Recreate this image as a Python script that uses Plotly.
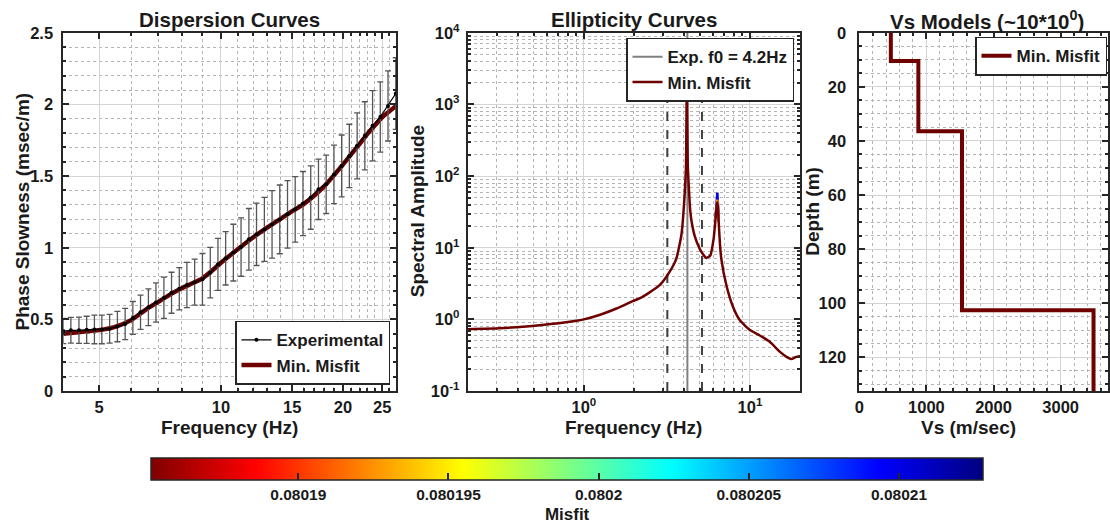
import plotly.graph_objects as go

W, H = 1110, 524
FONT = "Liberation Sans, Arial, sans-serif"
AXC = "#262626"
TXT = "#1a1a1a"

# ---------------- Dispersion (left) ----------------
disp_freq = [4.08, 4.26, 4.46, 4.66, 4.87, 5.08, 5.31, 5.55, 5.80, 6.06, 6.33, 6.62, 6.91, 7.23, 7.55,
             7.89, 8.24, 8.61, 9.00, 9.41, 9.83, 10.27, 10.73, 11.21, 11.72, 12.24, 12.80, 13.37, 13.97,
             14.60, 15.25, 15.94, 16.66, 17.41, 18.19, 19.01, 19.86, 20.75, 21.69, 22.66, 23.68, 24.74,
             25.85, 27.02]
disp_slow = [0.419, 0.424, 0.424, 0.427, 0.430, 0.430, 0.435, 0.450, 0.468, 0.510, 0.550, 0.585, 0.618,
             0.651, 0.686, 0.714, 0.740, 0.760, 0.780, 0.826, 0.884, 0.926, 0.966, 1.005, 1.059, 1.094,
             1.128, 1.163, 1.198, 1.233, 1.268, 1.308, 1.350, 1.408, 1.443, 1.512, 1.571, 1.641, 1.711,
             1.781, 1.851, 1.913, 1.990, 2.076]
disp_err = [0.088, 0.090, 0.092, 0.095, 0.100, 0.100, 0.100, 0.106, 0.109, 0.115, 0.120, 0.128, 0.137,
            0.144, 0.143, 0.148, 0.158, 0.160, 0.180, 0.176, 0.182, 0.186, 0.198, 0.204, 0.215, 0.218,
            0.223, 0.235, 0.240, 0.236, 0.229, 0.224, 0.221, 0.211, 0.204, 0.204, 0.216, 0.221, 0.230,
            0.238, 0.245, 0.245, 0.245, 0.250]
model_freq = [4.08, 4.5, 5.0, 5.5, 6.0, 6.5, 7.0, 7.5, 8.0, 8.5, 9.0, 9.5, 10, 11, 12, 13, 14, 15, 16, 17,
              18, 19, 20, 21, 22, 23, 24, 25, 26, 27.05]
model_slow = [0.400, 0.412, 0.425, 0.450, 0.495, 0.565, 0.622, 0.675, 0.718, 0.752, 0.787, 0.840, 0.895,
              0.990, 1.072, 1.140, 1.200, 1.255, 1.305, 1.365, 1.430, 1.505, 1.580, 1.655, 1.725, 1.795,
              1.855, 1.910, 1.950, 1.990]
disp_xticks = [5, 10, 15, 20, 25]
disp_xminor = [6, 7, 8, 9, 11, 12, 13, 14, 16, 17, 18, 19, 21, 22, 23, 24, 26, 27]
disp_yticks = [0, 0.5, 1, 1.5, 2, 2.5]
disp_yticklabels = ["0", "0.5", "1", "1.5", "2", "2.5"]

# ---------------- Ellipticity (middle) ----------------
ell_freq = [0.2, 0.31, 0.49, 0.78, 1.0, 1.24, 1.57, 1.97, 2.2, 2.5, 2.86, 3.28, 3.6, 3.86, 3.95, 4.04,
            4.12, 4.17, 4.22, 4.29, 4.36, 4.43, 4.64, 4.98, 5.2, 5.46, 5.77, 6.04, 6.2, 6.3, 6.36, 6.42,
            6.48, 6.6, 6.72, 7.21, 7.9, 8.67, 10.0, 11.4, 13.1, 15.1, 16.6, 17.7, 19.0, 20.0]
ell_amp = [0.73, 0.75, 0.81, 0.91, 1.0, 1.15, 1.42, 1.8, 2.0, 2.4, 3.0, 4.6, 7.0, 14.8, 25, 54, 140, 3000,
           150, 66, 35, 25, 14.8, 9.7, 8.2, 7.2, 7.8, 13.3, 25, 38, 43, 35, 22.8, 11, 7.0, 3.0, 1.5, 0.98,
           0.71, 0.6, 0.49, 0.355, 0.30, 0.28, 0.30, 0.31]
alt_peak_freq = [6.2, 6.3, 6.36, 6.42, 6.48]
alt_peak_blue = [26, 45, 59, 40, 23]
alt_peak_orange = [25.5, 41, 47, 37, 23]
f0 = 4.2
f0_low, f0_high = 3.18, 5.14
ell_xticks = [1, 10]
ell_xticklabels = ["10<sup>0</sup>", "10<sup>1</sup>"]
ell_xminor = [0.3, 0.4, 0.5, 0.6, 0.7, 0.8, 0.9, 2, 3, 4, 5, 6, 7, 8, 9]
ell_yticks = [0.1, 1, 10, 100, 1000, 10000]
ell_yticklabels = ["10<sup>-1</sup>", "10<sup>0</sup>", "10<sup>1</sup>", "10<sup>2</sup>",
                   "10<sup>3</sup>", "10<sup>4</sup>"]
ell_yminor = [m * d for d in [0.1, 1, 10, 100, 1000] for m in range(2, 10)]

# ---------------- Vs model (right) ----------------
vs_layer = [470, 880, 1530, 3490]
layer_bottom = [10.4, 36.4, 102.6]
depth_max = 132.5
vs_xticks = [0, 1000, 2000, 3000]
vs_xminor = list(range(200, 3800, 200))
vs_yticks = [0, 20, 40, 60, 80, 100, 120]
vs_yminor = list(range(5, 135, 5))

# ---------------- Colorbar ----------------
misfit_min, misfit_max = 0.0801851, 0.0802128
cb_ticks = [0.08019, 0.080195, 0.0802, 0.080205, 0.08021]
cb_ticklabels = ["0.08019", "0.080195", "0.0802", "0.080205", "0.08021"]
jet_r = [[0.0, "rgb(128,0,0)"], [0.125, "rgb(255,0,0)"], [0.375, "rgb(255,255,0)"],
         [0.625, "rgb(0,255,255)"], [0.875, "rgb(0,0,255)"], [1.0, "rgb(0,0,128)"]]
MINC = "rgb(110,0,0)"

# build step profile
vs_x, vs_y = [], []
tops = [0] + layer_bottom
bots = layer_bottom + [depth_max]
for v, t, b in zip(vs_layer, tops, bots):
    vs_x += [v, v]
    vs_y += [t, b]

fig = go.Figure()

# left panel
fig.add_trace(go.Scatter(x=model_freq, y=model_slow, mode="lines", name="Min. Misfit",
                         line=dict(color=MINC, width=4.5, shape="spline", smoothing=0.6),
                         xaxis="x", yaxis="y", legend="legend", legendrank=2))
fig.add_trace(go.Scatter(x=disp_freq, y=disp_slow, mode="lines+markers", name="Experimental",
                         line=dict(color="black", width=1.2), marker=dict(color="black", size=4),
                         error_y=dict(type="data", array=disp_err, color="#555555", thickness=1.3, width=3),
                         xaxis="x", yaxis="y", legend="legend", legendrank=1))

# middle panel
for fx in [f0_low, f0_high]:
    fig.add_trace(go.Scatter(x=[fx, fx], y=[0.1, 10000], mode="lines", showlegend=False,
                             line=dict(color="#404040", width=2, dash="dash"), xaxis="x2", yaxis="y2"))
fig.add_trace(go.Scatter(x=[f0, f0], y=[0.1, 10000], mode="lines", name="Exp. f0 = 4.2Hz",
                         line=dict(color="#808080", width=2), xaxis="x2", yaxis="y2",
                         legend="legend2", legendrank=1))
fig.add_trace(go.Scatter(x=alt_peak_freq, y=alt_peak_blue, mode="lines", showlegend=False,
                         line=dict(color="rgb(0,0,235)", width=2.5), xaxis="x2", yaxis="y2"))
fig.add_trace(go.Scatter(x=alt_peak_freq, y=alt_peak_orange, mode="lines", showlegend=False,
                         line=dict(color="rgb(255,140,0)", width=2.5), xaxis="x2", yaxis="y2"))
fig.add_trace(go.Scatter(x=ell_freq, y=ell_amp, mode="lines", name="Min. Misfit",
                         line=dict(color=MINC, width=2.5, shape="spline", smoothing=0.5),
                         xaxis="x2", yaxis="y2", legend="legend2", legendrank=2))

# right panel
fig.add_trace(go.Scatter(x=vs_x, y=vs_y, mode="lines", name="Min. Misfit",
                         line=dict(color=MINC, width=4), xaxis="x3", yaxis="y3", legend="legend3"))

# colorbar carrier
fig.add_trace(go.Scatter(x=[None], y=[None], mode="markers", showlegend=False, hoverinfo="skip",
                         marker=dict(color=[misfit_min], cmin=misfit_min, cmax=misfit_max,
                                     colorscale=jet_r, showscale=True,
                                     colorbar=dict(orientation="h", x=0.5109, xanchor="center",
                                                   y=0.1216, yanchor="top", yref="paper", xref="paper",
                                                   len=0.7498, lenmode="fraction",
                                                   thickness=21.7, thicknessmode="pixels",
                                                   xpad=0, ypad=0, outlinewidth=1.5, outlinecolor=AXC,
                                                   ticks="inside", ticklen=7, tickwidth=1.5, tickcolor=AXC,
                                                   tickmode="array", tickvals=cb_ticks, ticktext=cb_ticklabels,
                                                   tickfont=dict(size=15.5, color=TXT),
                                                   title=dict(text="Misfit", side="bottom",
                                                              font=dict(size=17, color=TXT)))),
                         xaxis="x", yaxis="y"))


def axis(domain, anchor, rng, ticklabelstandoff, minor_vals, **kw):
    d = dict(domain=domain, anchor=anchor, range=rng, showline=True, linecolor=AXC, linewidth=1.8,
             mirror="ticks", ticks="inside", ticklen=6, tickwidth=1.5, tickcolor=AXC,
             showgrid=True, gridcolor="#d4d4d4", gridwidth=1.3, zeroline=False,
             tickfont=dict(size=16.5, color=TXT), automargin=False,
             ticklabelstandoff=ticklabelstandoff,
             minor=dict(tickmode="array", tickvals=minor_vals, ticks="inside", ticklen=3, tickcolor=AXC,
                        showgrid=True, gridcolor="#b4b4b4", griddash="dot", gridwidth=1))
    d.update(kw)
    return d


xd1 = [63.3 / W, 396 / W]
xd2 = [467.7 / W, 800 / W]
xd3 = [859.3 / W, 1108.3 / W]
yd = [(H - 393.3) / H, (H - 33) / H]

fig.update_layout(
    width=W, height=H, margin=dict(l=0, r=0, t=0, b=0),
    paper_bgcolor="white", plot_bgcolor="white",
    font=dict(family=FONT, weight="bold", color=TXT),
    xaxis=axis(xd1, "y", [0.6107, 1.4322], 0, disp_xminor,
               type="log", tickmode="array", tickvals=disp_xticks),
    yaxis=axis(yd, "x", [0, 2.5], 5, [i / 10 for i in range(1, 25)],
               tickmode="array", tickvals=disp_yticks, ticktext=disp_yticklabels),
    xaxis2=axis(xd2, "y2", [-0.699, 1.301], 0, ell_xminor,
                type="log", tickmode="array", tickvals=ell_xticks, ticktext=ell_xticklabels),
    yaxis2=axis(yd, "x2", [-1, 4], 3, ell_yminor,
                type="log", tickmode="array", tickvals=ell_yticks, ticktext=ell_yticklabels),
    xaxis3=axis(xd3, "y3", [0, 3710], 0, vs_xminor, tickmode="array", tickvals=vs_xticks),
    yaxis3=axis(yd, "x3", [depth_max, 0], 8, vs_yminor, tickmode="array", tickvals=vs_yticks),
    legend=dict(x=390 / W, xanchor="right", y=(H - 387) / H, yanchor="bottom", bgcolor="white",
                bordercolor=AXC, borderwidth=1.5, font=dict(size=17), itemwidth=30, tracegroupgap=0),
    legend2=dict(x=794 / W, xanchor="right", y=(H - 38) / H, yanchor="top", bgcolor="white",
                 bordercolor=AXC, borderwidth=1.5, font=dict(size=17), itemwidth=30, tracegroupgap=0),
    legend3=dict(x=1107 / W, xanchor="right", y=(H - 37) / H, yanchor="top", bgcolor="white",
                 bordercolor=AXC, borderwidth=1.5, font=dict(size=17), itemwidth=30, tracegroupgap=0),
    showlegend=True,
)

# panel titles
titles = [("Dispersion Curves", (xd1[0] + xd1[1]) / 2 * W),
          ("Ellipticity Curves", (xd2[0] + xd2[1]) / 2 * W),
          ("Vs Models (~10*10<sup>0</sup>)", 986.7)]
for txt, cx in titles:
    fig.add_annotation(text=txt, x=cx / W, y=(H - 20) / H, xref="paper", yref="paper",
                       xanchor="center", yanchor="middle", showarrow=False,
                       font=dict(size=20.5, color=TXT))

# axis titles (placed to match the reference positions)
xlabels = [("Frequency (Hz)", (xd1[0] + xd1[1]) / 2 * W),
           ("Frequency (Hz)", (xd2[0] + xd2[1]) / 2 * W),
           ("Vs (m/sec)", 968)]
for txt, cx in xlabels:
    fig.add_annotation(text=txt, x=cx / W, y=(H - 430) / H, xref="paper", yref="paper",
                       xanchor="center", yanchor="middle", showarrow=False,
                       font=dict(size=19, color=TXT))
ylabels = [("Phase Slowness (msec/m)", 22.7), ("Spectral Amplitude", 417.5), ("Depth (m)", 813)]
for txt, cx in ylabels:
    fig.add_annotation(text=txt, x=cx / W, y=(H - 213) / H, xref="paper", yref="paper",
                       xanchor="center", yanchor="middle", showarrow=False, textangle=-90,
                       font=dict(size=19, color=TXT))

fig.write_html("out.html")
